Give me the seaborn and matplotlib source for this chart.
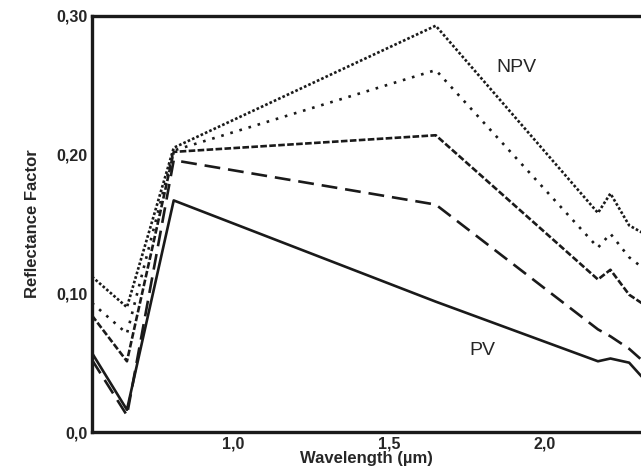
import matplotlib
matplotlib.use("Agg")
import matplotlib.pyplot as plt
import seaborn as sns
import pandas as pd

# Wavelengths (µm) and reflectance of the five mixtures, from NPV (top) to PV (bottom)
wavelength = [0.548, 0.66, 0.81, 1.65, 2.17, 2.21, 2.27, 2.31]
npv_100 = [0.112, 0.090, 0.205, 0.293, 0.158, 0.172, 0.149, 0.144]
npv_75 = [0.093, 0.071, 0.203, 0.261, 0.133, 0.143, 0.126, 0.119]
npv_50 = [0.084, 0.051, 0.202, 0.214, 0.110, 0.117, 0.099, 0.093]
npv_25 = [0.052, 0.012, 0.196, 0.164, 0.074, 0.069, 0.060, 0.052]
pv_100 = [0.057, 0.016, 0.167, 0.094, 0.051, 0.053, 0.050, 0.040]

yticks = [0.0, 0.1, 0.2, 0.3]
ytick_labels = ["0,0", "0,10", "0,20", "0,30"]
xticks = [1.0, 1.5, 2.0]
xtick_labels = ["1,0", "1,5", "2,0"]

sns.set_style("white")
plt.rcParams["font.family"] = ["Liberation Sans", "DejaVu Sans"]

df = pd.DataFrame({"Wavelength": wavelength, "npv_100": npv_100, "npv_75": npv_75,
                   "npv_50": npv_50, "npv_25": npv_25, "pv_100": pv_100})

styles = {
    "npv_100": (0, (1, 0.8)),
    "npv_75": (0, (1, 2.6)),
    "npv_50": (0, (2.5, 0.9)),
    "npv_25": (0, (6, 3)),
    "pv_100": "-",
}

fig = plt.figure(figsize=(6.41, 4.73), dpi=100)
ax = fig.add_axes([92 / 641, 41 / 473, 549 / 641, 416 / 473])

for col, ls in styles.items():
    sns.lineplot(data=df, x="Wavelength", y=col, ax=ax, color="#1a1a1a",
                 linewidth=1.9, linestyle=ls)

ax.set_xlim(0.548, 2.308)
ax.set_ylim(0, 0.30)
ax.set_xticks(xticks)
ax.set_xticklabels(xtick_labels, fontsize=11.5, fontweight="bold")
ax.set_yticks(yticks)
ax.set_yticklabels(ytick_labels, fontsize=11.5, fontweight="bold")
ax.tick_params(direction="in", length=5, width=0.8, color="#888888", pad=3)

ax.set_xlabel("Wavelength (µm)", fontsize=12, fontweight="bold", labelpad=0)
ax.set_ylabel("Reflectance Factor", fontsize=12, fontweight="bold", labelpad=12)

for side in ["left", "top", "bottom"]:
    ax.spines[side].set_linewidth(2.4)
    ax.spines[side].set_color("#1a1a1a")
ax.spines["right"].set_visible(False)

ax.text(1.91, 0.263, "NPV", fontsize=14, ha="center", va="center")
ax.text(1.80, 0.059, "PV", fontsize=14, ha="center", va="center")

fig.savefig("out.png", dpi=100)
